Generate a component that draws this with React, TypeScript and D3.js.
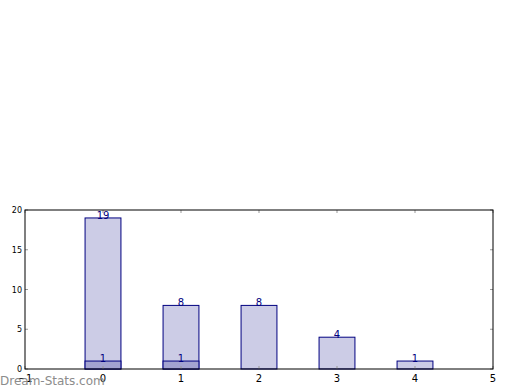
import React from "react";
import * as d3 from "d3";

const categories = [0, 1, 2, 3, 4];
const totals = [19, 8, 8, 4, 1];
const subset = [1, 1, 0, 0, 0];
const xTicks = [-1, 0, 1, 2, 3, 4, 5];
const yTicks = [0, 5, 10, 15, 20];

export default function App() {
  const W = 520, H = 390;
  const left = 25, right = 493, top = 210, bottom = 369;
  const x = d3.scaleLinear().domain([-1, 5]).range([left, right]);
  const y = d3.scaleLinear().domain([0, 20]).range([bottom, top]);
  const bw = 0.46;
  const navy = "#000080";
  const font = "DejaVu Sans, sans-serif";
  return (
    <svg width={W} height={H} style={{ position: "absolute", left: 0, top: 0 }}>
      <rect width={W} height={H} fill="#fff" />
      {categories.map((c, i) => (
        <rect key={"a" + i} x={x(c - bw / 2)} y={y(totals[i])} width={x(c + bw / 2) - x(c - bw / 2)} height={y(0) - y(totals[i])} fill="#ccccE6" stroke={navy} strokeWidth={1} />
      ))}
      {categories.map((c, i) => subset[i] > 0 ? (
        <rect key={"b" + i} x={x(c - bw / 2)} y={y(subset[i])} width={x(c + bw / 2) - x(c - bw / 2)} height={y(0) - y(subset[i])} fill="#a3a3d1" stroke={navy} strokeWidth={1} />
      ) : null)}
      {categories.map((c, i) => (
        <text key={"ta" + i} x={x(c)} y={y(totals[i]) + 1} textAnchor="middle" fontSize={10} fill={navy} fontFamily={font}>{totals[i]}</text>
      ))}
      {categories.map((c, i) => subset[i] > 0 ? (
        <text key={"tb" + i} x={x(c)} y={y(subset[i]) + 1} textAnchor="middle" fontSize={10} fill={navy} fontFamily={font}>{subset[i]}</text>
      ) : null)}
      {xTicks.map((t) => (
        <g key={"xt" + t}>
          <line x1={x(t)} x2={x(t)} y1={bottom} y2={bottom - 3} stroke="#999" />
          <line x1={x(t)} x2={x(t)} y1={top} y2={top + 3} stroke="#999" />
          <text x={x(t)} y={bottom + 13} textAnchor="middle" fontSize={10} fill="#000" fontFamily={font}>{t < 0 ? "\u2212" + Math.abs(t) : t}</text>
        </g>
      ))}
      {yTicks.map((t) => (
        <g key={"yt" + t}>
          <line x1={left} x2={left + 3} y1={y(t)} y2={y(t)} stroke="#999" />
          <line x1={right} x2={right - 3} y1={y(t)} y2={y(t)} stroke="#999" />
          <text x={left - 3} y={y(t) + 3} textAnchor="end" fontSize={8} fill="#000" fontFamily={font}>{t}</text>
        </g>
      ))}
      <rect x={left} y={top} width={right - left} height={bottom - top} fill="none" stroke="#000" strokeWidth={1} />
      <text x={0} y={385} fontSize={12} fill="#8c8c8c" fontFamily={font}>Dream-Stats.com</text>
    </svg>
  );
}
